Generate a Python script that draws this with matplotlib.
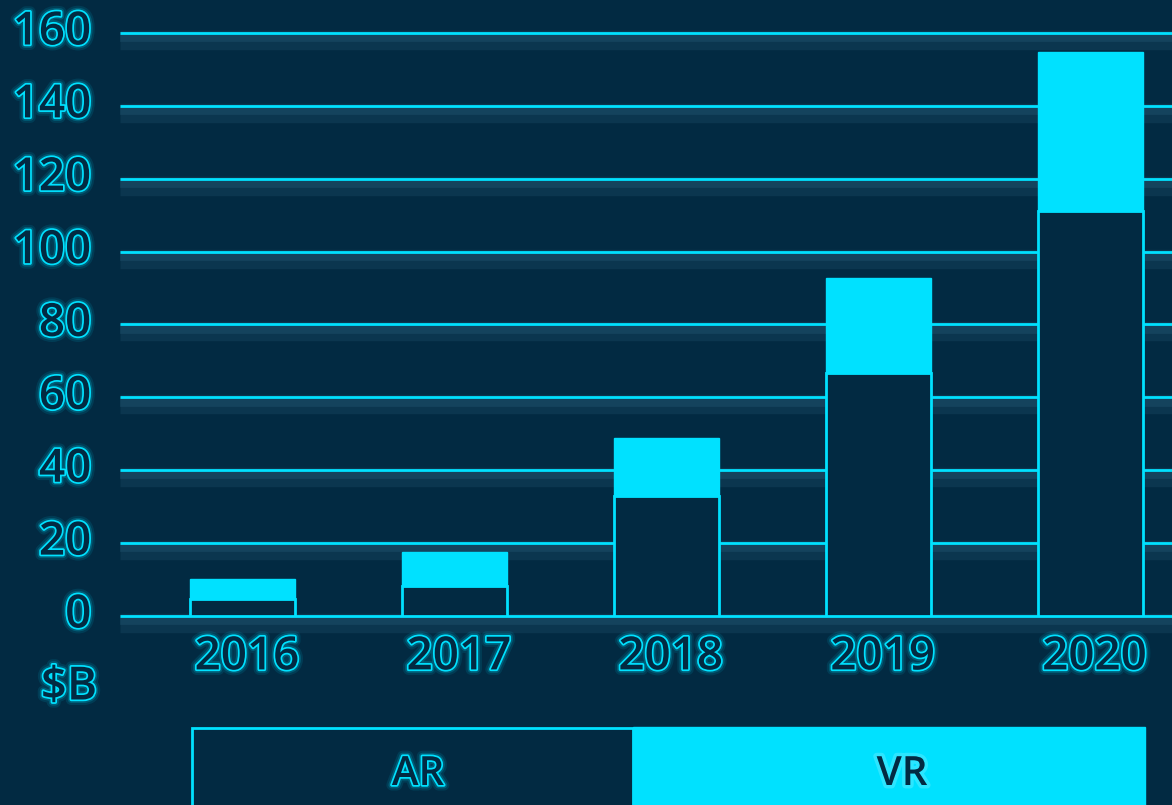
import matplotlib
matplotlib.use('Agg')
import matplotlib.pyplot as plt
import matplotlib.patheffects as pe
from matplotlib.patches import Rectangle
import numpy as np

# Datos (miles de millones de dolares)
years = ['2016', '2017', '2018', '2019', '2020']
ar = [4.7, 8.2, 32.9, 66.7, 111.1]
vr = [5.5, 9.4, 15.9, 26.1, 43.7]
yticks = [0, 20, 40, 60, 80, 100, 120, 140, 160]

bg = '#022a42'
cyan = '#00e1ff'

plt.rcParams['font.family'] = ['Open Sans', 'DejaVu Sans']

# efecto de texto contorneado con brillo
glow = [pe.Stroke(linewidth=8, foreground=cyan, alpha=0.1),
        pe.Stroke(linewidth=5, foreground=cyan, alpha=0.2),
        pe.Stroke(linewidth=2.5, foreground=cyan),
        pe.Normal()]

fig = plt.figure(figsize=(11.72, 8.05), dpi=100, facecolor=bg)
ax = fig.add_axes([120 / 1172, (805 - 616) / 805, 1 - 120 / 1172, 583 / 805])
ax.set_facecolor(bg)

x = np.arange(len(years))

# lineas de la rejilla con brillo suave
for t in yticks:
    ax.axhline(t, color=cyan, linewidth=2, zorder=1, clip_on=False, solid_capstyle='butt',
               path_effects=[pe.SimpleLineShadow(offset=(0, -5), shadow_color='#4d8fae',
                                                 alpha=0.12, linewidth=14, capstyle='butt'),
                             pe.SimpleLineShadow(offset=(0, -3), shadow_color='#4d8fae',
                                                 alpha=0.15, linewidth=7, capstyle='butt'),
                             pe.Normal()])

ax.bar(x, ar, width=0.495, color=bg, edgecolor=cyan, linewidth=2, zorder=3)
ax.bar(x, vr, width=0.495, bottom=ar, color=cyan, edgecolor=cyan, linewidth=1, zorder=3)

ax.set_xlim(-0.58, 4.385)
ax.set_ylim(0, 160)
for s in ax.spines.values():
    s.set_visible(False)
ax.set_xticks([])
ax.set_yticks([])

for t in yticks:
    ax.text(-0.715, t, str(t), ha='right', va='center', fontsize=33, color=bg,
            fontweight='semibold', path_effects=glow, clip_on=False)
for i, yr in enumerate(years):
    ax.text(x[i] + 0.02, -11.5, yr, ha='center', va='center', fontsize=33, color=bg,
            fontweight='semibold', path_effects=glow, clip_on=False)
fig.text(69 / 1172, 1 - 688 / 805, '$B', ha='center', va='center', fontsize=33, color=bg,
         fontweight='semibold', path_effects=glow)

# leyenda en forma de tabla bajo el grafico
lax = fig.add_axes([0, 0, 1, 1], facecolor='none')
lax.set_xlim(0, 1172)
lax.set_ylim(805, 0)
lax.axis('off')
lax.add_patch(Rectangle((192, 728), 441, 90, facecolor=bg, edgecolor=cyan, linewidth=2))
lax.add_patch(Rectangle((633, 727), 512, 90, facecolor=cyan, edgecolor=cyan, linewidth=1))
lax.text(418, 775, 'AR', ha='center', va='center', fontsize=29, color=bg,
         fontweight='semibold', path_effects=glow)
lax.text(902, 775, 'VR', ha='center', va='center', fontsize=29, color=bg,
         fontweight='semibold',
         path_effects=[pe.Stroke(linewidth=5, foreground='#7ff0ff', alpha=0.35), pe.Normal()])

fig.savefig('out.png', dpi=100, facecolor=bg)
